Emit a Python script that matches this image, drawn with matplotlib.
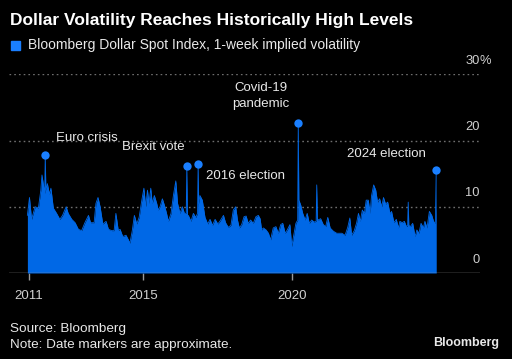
import matplotlib
matplotlib.use("Agg")
import matplotlib.pyplot as plt
import matplotlib.transforms as mtransforms

# ---------------- data ----------------
dates = [
    2011.11, 2011.18, 2011.25, 2011.37, 2011.48, 2011.56, 2011.60, 2011.69, 2011.71, 2011.73,
    2011.78, 2011.85, 2011.90, 2011.98, 2012.09, 2012.20, 2012.29, 2012.41, 2012.48, 2012.60,
    2012.71, 2012.82, 2012.93, 2013.04, 2013.16, 2013.23, 2013.35, 2013.41, 2013.48, 2013.55,
    2013.64, 2013.75, 2013.83, 2013.94, 2014.02, 2014.08, 2014.16, 2014.22, 2014.31, 2014.42,
    2014.50, 2014.55, 2014.63, 2014.70, 2014.78, 2014.86, 2014.95, 2015.02, 2015.08, 2015.14,
    2015.19, 2015.25, 2015.30, 2015.37, 2015.45, 2015.50, 2015.56, 2015.64, 2015.71, 2015.78,
    2015.84, 2015.93, 2016.01, 2016.09, 2016.15, 2016.23, 2016.31, 2016.38, 2016.44, 2016.46,
    2016.48, 2016.51, 2016.60, 2016.68, 2016.76, 2016.82, 2016.84, 2016.86, 2016.90, 2016.98,
    2017.07, 2017.16, 2017.24, 2017.32, 2017.41, 2017.50, 2017.57, 2017.69, 2017.76, 2017.85,
    2017.94, 2018.02, 2018.10, 2018.16, 2018.22, 2018.30, 2018.38, 2018.45, 2018.52, 2018.60,
    2018.69, 2018.78, 2018.86, 2018.92, 2018.97, 2019.03, 2019.12, 2019.20, 2019.27, 2019.36,
    2019.45, 2019.53, 2019.61, 2019.68, 2019.76, 2019.83, 2019.92, 2019.98, 2020.06, 2020.12,
    2020.18, 2020.20, 2020.22, 2020.28, 2020.35, 2020.43, 2020.50, 2020.57, 2020.65, 2020.73,
    2020.80, 2020.82, 2020.84, 2020.87, 2020.95, 2021.04, 2021.12, 2021.19, 2021.27, 2021.38,
    2021.49, 2021.60, 2021.66, 2021.77, 2021.86, 2021.93, 2021.99, 2022.08, 2022.16, 2022.22,
    2022.28, 2022.35, 2022.42, 2022.48, 2022.55, 2022.61, 2022.66, 2022.73, 2022.80, 2022.86,
    2022.93, 2023.00, 2023.06, 2023.13, 2023.20, 2023.28, 2023.33, 2023.41, 2023.49, 2023.56,
    2023.61, 2023.69, 2023.76, 2023.83, 2023.87, 2023.89, 2023.91, 2023.96, 2024.04, 2024.12,
    2024.18, 2024.25, 2024.32, 2024.40, 2024.45, 2024.52, 2024.60, 2024.68, 2024.74, 2024.80,
    2024.83,
]
vol = [
    8.7, 11.4, 8.1, 10.0, 9.8, 12.5, 14.8, 12.0, 17.8, 12.5,
    13.5, 11.9, 12.8, 9.8, 9.0, 8.1, 8.7, 10.0, 9.0, 8.1,
    7.6, 6.6, 6.4, 7.6, 8.7, 7.6, 7.6, 10.5, 11.4, 10.0,
    7.4, 7.8, 6.6, 6.4, 6.4, 9.0, 6.4, 6.6, 5.5, 5.7,
    5.0, 4.5, 6.4, 8.7, 7.4, 8.4, 11.0, 12.8, 10.0, 12.5,
    10.5, 12.8, 10.5, 11.7, 10.5, 9.5, 10.0, 11.2, 10.2, 9.0,
    7.8, 9.0, 11.7, 13.9, 10.5, 9.0, 10.0, 9.0, 9.0, 16.1,
    8.7, 8.7, 7.8, 9.0, 8.4, 9.0, 16.4, 10.5, 11.7, 11.0,
    8.4, 7.4, 8.1, 7.2, 8.1, 7.4, 7.8, 8.7, 7.6, 6.9,
    7.2, 9.5, 10.0, 8.0, 6.8, 7.3, 8.5, 8.6, 7.5, 8.0,
    7.5, 8.5, 8.7, 8.2, 6.5, 6.8, 6.5, 6.0, 5.0, 6.8,
    7.0, 6.0, 7.3, 7.5, 6.0, 6.5, 7.3, 4.0, 6.0, 7.5,
    8.0, 22.7, 11.0, 10.3, 9.0, 8.0, 9.0, 7.5, 8.0, 7.7,
    7.8, 13.3, 8.2, 8.0, 8.2, 7.3, 7.0, 8.4, 6.8, 6.3,
    6.0, 6.0, 6.0, 5.7, 6.9, 8.3, 5.7, 6.4, 7.6, 9.0,
    7.8, 9.5, 9.0, 11.0, 11.0, 9.0, 11.7, 13.3, 12.5, 10.7,
    11.2, 10.0, 11.4, 10.4, 10.7, 8.9, 9.3, 7.6, 8.1, 6.8,
    7.8, 7.6, 7.8, 7.0, 7.2, 10.7, 7.2, 7.0, 7.5, 5.5,
    6.5, 6.0, 7.5, 6.8, 7.8, 6.8, 9.3, 8.7, 7.8, 7.5,
    15.6,
]

event_labels = ["Euro crisis", "Brexit vote", "2016 election", "Covid-19\npandemic", "2024 election"]
event_dates = [2011.71, 2016.46, 2016.84, 2020.20, 2024.83]
event_values = [17.8, 16.1, 16.4, 22.7, 15.6]

y_ticks = [0, 10, 20, 30]
y_labels = ["0", "10", "20", "30"]
x_ticks = [2011.15, 2015, 2020]
x_labels = ["2011", "2015", "2020"]

title = "Dollar Volatility Reaches Historically High Levels"
legend_label = "Bloomberg Dollar Spot Index, 1-week implied volatility"

# ---------------- style ----------------
BG = "#000000"
AREA = "#0068E6"
MARK = "#1A7FFF"
TXT = "#E8E8E8"
TICKTXT = "#D0D0D0"
GRID = "#6E6E6E"
FONT = "Liberation Sans"

W, H = 512, 359
fig = plt.figure(figsize=(W / 100, H / 100), dpi=100, facecolor=BG)

def fx(px):
    return px / W

def fy(py):
    return 1 - py / H

left_px, right_px = 9, 480
top_px, bottom_px = 74.3, 273
ax = fig.add_axes([fx(left_px), fy(bottom_px), fx(right_px) - fx(left_px), fy(top_px) - fy(bottom_px)])
ax.set_facecolor(BG)

px_per_year = 29.8
x0 = 2015 + (left_px - 143.3) / px_per_year
x1 = 2015 + (right_px - 143.3) / px_per_year
ax.set_xlim(x0, x1)
ax.set_ylim(0, 30)

ax.fill_between(dates, vol, 0, color=AREA, linewidth=0, zorder=2)
ax.plot(dates, vol, color=AREA, linewidth=0.6, zorder=2)
ax.scatter(event_dates, event_values, s=36, color=MARK, zorder=4, linewidths=0)

for s in ax.spines.values():
    s.set_visible(False)

for v in y_ticks[1:]:
    ax.axhline(v, color=GRID, linewidth=1.0, linestyle=(0, (1.2, 2.2)), zorder=1)
ax.axhline(0, color="#9A9A9A", linewidth=1.0, zorder=3)

ax.set_yticks([])
ax.set_xticks(x_ticks)
ax.set_xticklabels(x_labels, fontsize=9.5, color=TICKTXT, fontfamily=FONT)
ax.tick_params(axis="x", length=5, width=1, color="#9A9A9A", pad=7.5)

# y labels above gridlines at right edge
off = mtransforms.offset_copy(ax.get_yaxis_transform(), fig=fig, x=0, y=9.7, units="points")
for v, lab in zip(y_ticks, y_labels):
    ax.text(1.0, v, lab, transform=off, ha="right", va="center", fontsize=9.3,
            color=TICKTXT, fontfamily=FONT)
ax.text(1.0, y_ticks[-1], "%", transform=off, ha="left", va="center", fontsize=9.3,
        color=TICKTXT, fontfamily=FONT)

# annotations
ann_pos = [(56, 138, "left"), (122, 147, "left"), (206, 176, "left"), (261, 96, "center"), (347, 154, "left")]
for lab, (px, py, ha) in zip(event_labels, ann_pos):
    fig.text(fx(px), fy(py), lab, ha=ha, va="center", fontsize=9.5, color=TXT,
             fontfamily=FONT, linespacing=1.35)

# title & legend
fig.text(fx(10), fy(21), title, ha="left", va="center", fontsize=12.5, fontweight="bold",
         color="#FFFFFF", fontfamily=FONT)
fig.patches.append(plt.Rectangle((fx(11), fy(49.5)), fx(9), 9 / H, transform=fig.transFigure,
                                 color=MARK, figure=fig))
fig.text(fx(28), fy(45), legend_label, ha="left", va="center", fontsize=10.0, color=TXT,
         fontfamily=FONT)

# footer
fig.text(fx(10), fy(329), "Source: Bloomberg", ha="left", va="center", fontsize=9.7,
         color=TXT, fontfamily=FONT)
fig.text(fx(10), fy(345), "Note: Date markers are approximate.", ha="left", va="center",
         fontsize=9.7, color=TXT, fontfamily=FONT)
fig.text(fx(499), fy(343), "Bloomberg", ha="right", va="center", fontsize=9.0,
         fontweight="bold", color=TXT, fontfamily=FONT)

fig.savefig("out.png", dpi=100, facecolor=BG)
